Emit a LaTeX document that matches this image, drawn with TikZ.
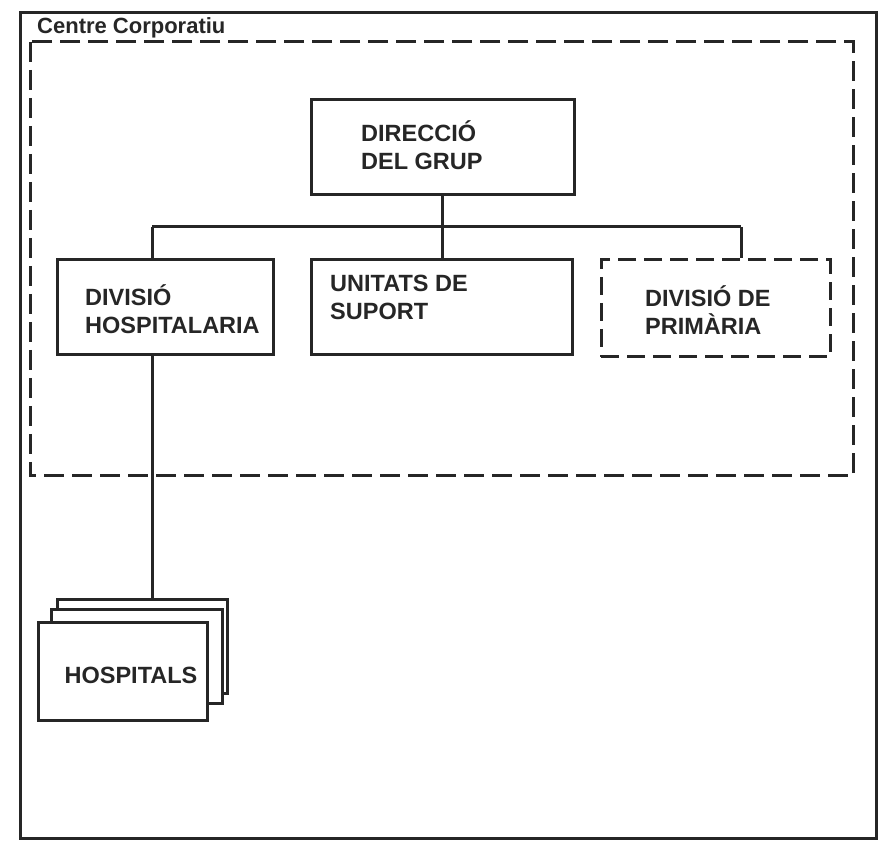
\documentclass[tikz,border=0pt]{standalone}
\usepackage{fontspec}
\setmainfont{Liberation Sans}
\begin{document}
\begin{tikzpicture}[x=1pt,y=-1pt,
  frame/.style={draw=black!85, line width=3pt},
  orgbox/.style={draw=black!85, line width=3pt, fill=white, inner sep=0pt, rectangle},
  dashbox/.style={draw=black!85, line width=3pt, dash pattern=on 18pt off 8pt, inner sep=0pt, rectangle},
  conn/.style={draw=black!85, line width=3pt},
  lbl/.style={inner sep=0pt, anchor=west, align=left, font=\fontsize{23.5}{28}\selectfont\bfseries, text=black!85},
  title/.style={inner sep=0pt, anchor=west, font=\fontsize{22}{24}\selectfont\bfseries, text=black!85}]
\useasboundingbox (0,0) rectangle (879,842);
% outer frame
\draw[frame] (20,13) rectangle (876,838);
\node[title] (cc) at (37,28) {Centre Corporatiu};
% dashed corporate centre
\draw[frame, dash pattern=on 20pt off 8pt] (30,42) rectangle (853,476);
% boxes
\node[orgbox, minimum width=263pt, minimum height=95pt] (dir) at (442.5,147.5) {};
\node[orgbox, minimum width=216pt, minimum height=95pt] (divh) at (165,307.5) {};
\node[orgbox, minimum width=261pt, minimum height=95pt] (us) at (441.5,307.5) {};
\node[dashbox, minimum width=229pt, minimum height=97pt] (divp) at (715.5,308.5) {};
% labels
\node[lbl] (tdir) at (361,145) {DIRECCIÓ\\DEL GRUP};
\node[lbl] (tdivh) at (85,309) {DIVISIÓ\\HOSPITALARIA};
\node[lbl] (tus) at (330,297) {UNITATS DE\\SUPORT};
\node[lbl] (tdivp) at (645,310) {DIVISIÓ DE\\PRIMÀRIA};
% hospitals stack
\node[orgbox, minimum width=170pt, minimum height=94pt] (hback) at (142,646) {};
\node[orgbox, minimum width=171pt, minimum height=94pt] (hmid) at (136.5,656) {};
\node[orgbox, minimum width=169pt, minimum height=98pt] (hfront) at (122.5,671) {};
\node[lbl, anchor=center] (thosp) at (131,675) {HOSPITALS};
% connectors
\coordinate (busL) at (152,227);
\coordinate (busR) at (741,227);
\draw[conn] (busL) -- (busR);
\draw[conn] (dir.south) -- (dir.south |- us.north);
\draw[conn] (busL) -- (busL |- divh.north);
\draw[conn] (busR) -- (busR |- divp.north);
\draw[conn] (busL |- divh.south) -- (busL |- hback.north);
\end{tikzpicture}
\end{document}
